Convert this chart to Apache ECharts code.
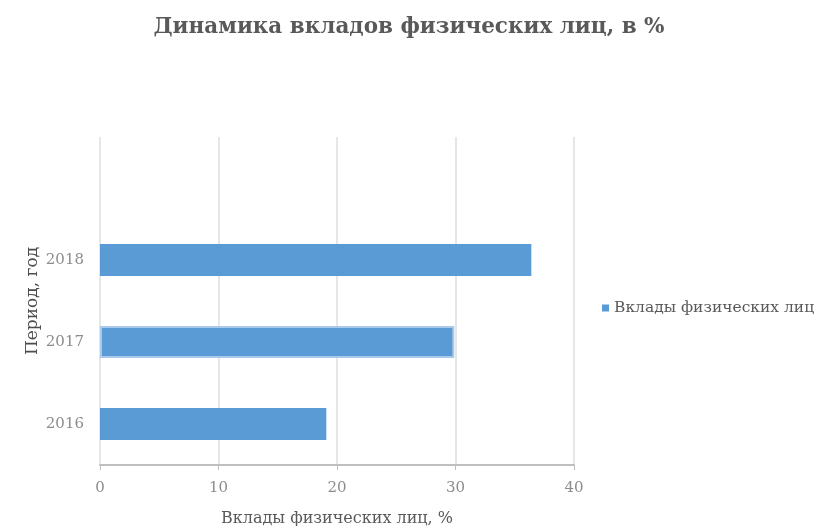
<!DOCTYPE html>
<html><head><meta charset="utf-8">
<script src="https://cdn.jsdelivr.net/npm/echarts@6/dist/echarts.min.js"></script>
<style>html,body{margin:0;padding:0;background:#fff}#c{width:818px;height:526px}</style>
</head><body><div id="c"></div>
<script>
const categories = ['2016', '2017', '2018', ''];
const values = [19.1, 29.9, 36.4, null];
const xTicks = [0, 10, 20, 30, 40];
const seriesName = 'Вклады физических лиц';
const titleText = 'Динамика вкладов физических лиц, в %';
const xName = 'Вклады физических лиц, %';
const yName = 'Период, год';

const font = 'DejaVu Serif';
const chart = echarts.init(document.getElementById('c'));
chart.setOption({
  animation: false,
  title: { text: titleText, left: 'center', top: 11,
    textStyle: { fontFamily: font, fontSize: 21.5, fontWeight: 'bold', color: '#595959' } },
  legend: { data: [seriesName], orient: 'vertical', left: 597, top: 295, icon: 'rect',
    itemWidth: 7, itemHeight: 7, itemGap: 4,
    textStyle: { fontFamily: font, fontSize: 15.5, color: '#595959' } },
  grid: { left: 100, right: 244, top: 137, bottom: 61, outerBoundsMode: 'none', containLabel: false },
  xAxis: { type: 'value', min: xTicks[0], max: xTicks[xTicks.length - 1], interval: 10,
    name: xName, nameLocation: 'middle', nameGap: 46, nameMoveOverlap: false,
    nameTextStyle: { fontFamily: font, fontSize: 16, color: '#595959' },
    axisLine: { show: true, lineStyle: { color: '#BFBFBF', width: 2 } },
    axisTick: { show: true, length: 5, lineStyle: { color: '#BFBFBF' } },
    axisLabel: { fontFamily: font, fontSize: 15, color: '#8C8C8C', margin: 16 },
    splitLine: { show: true, lineStyle: { color: '#E6E6E6', width: 2 } } },
  yAxis: { type: 'category', data: categories,
    name: yName, nameLocation: 'middle', nameGap: 59, nameRotate: 90, nameMoveOverlap: false,
    nameTextStyle: { fontFamily: font, fontSize: 17, color: '#4D4D4D' },
    axisLine: { show: false }, axisTick: { show: false },
    axisLabel: { fontFamily: font, fontSize: 15, color: '#8C8C8C', margin: 16 } },
  series: [{ name: seriesName, type: 'bar', barWidth: 32,
    itemStyle: { color: '#5B9BD5' },
    data: values.map((v, i) => i === 1 ? { value: v, itemStyle: { borderColor: '#A9CAEA', borderWidth: 2 } } : v) }]
});
</script></body></html>
